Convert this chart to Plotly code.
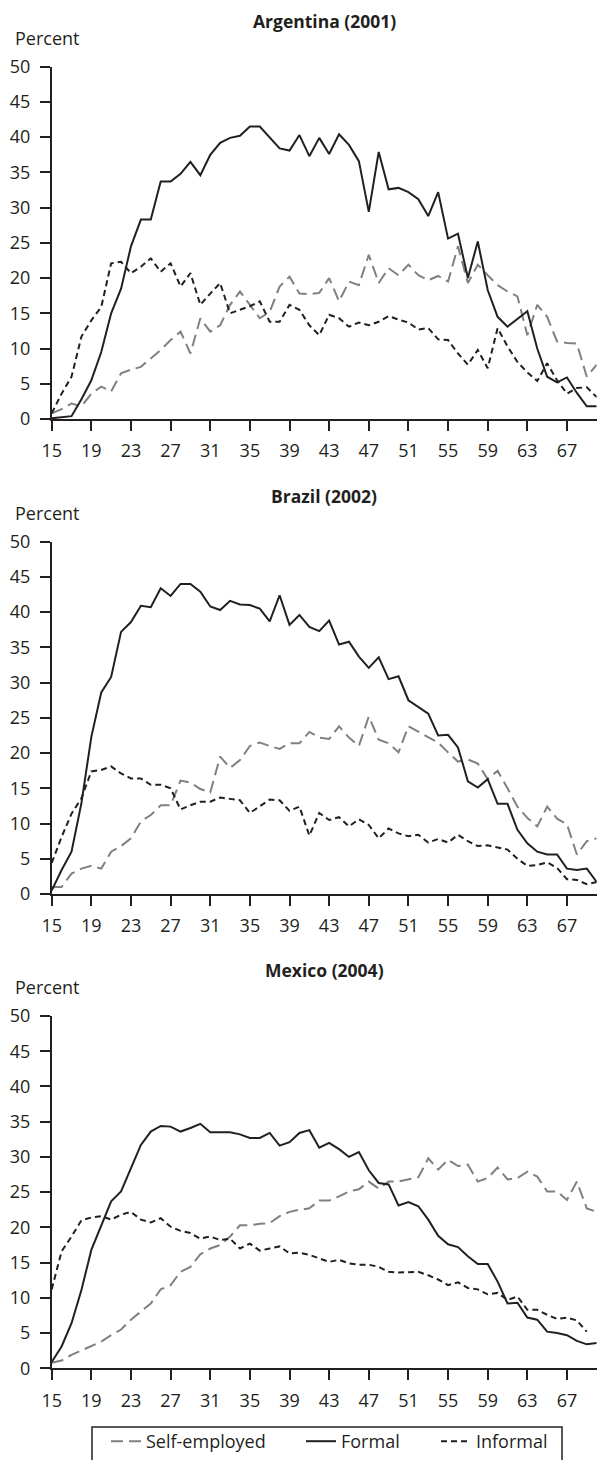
import plotly.graph_objects as go

# ages 15..70, one point per year
ages = list(range(15, 71))
tick_ages = list(range(15, 68, 4))

countries = ["Argentina (2001)", "Brazil (2002)", "Mexico (2004)"]

# percent of workers by age
arg_self = [0.8, 1.4, 2.2, 1.8, 3.6, 4.6, 3.9, 6.5, 7.0, 7.4, 8.6, 9.8, 11.2, 12.4, 9.3, 14.3,
            12.4, 13.3, 16.2, 18.1, 16.2, 14.3, 15.2, 18.8, 20.2, 17.8, 17.7, 17.9, 20.0, 16.7,
            19.5, 19.0, 23.3, 19.3, 21.4, 20.4, 21.9, 20.4, 19.7, 20.3, 19.5, 24.5, 19.3, 21.9,
            20.4, 19.0, 18.1, 17.4, 11.9, 16.2, 14.5, 11.0, 10.8, 10.7, 6.0, 7.7]
arg_formal = [0.1, 0.2, 0.4, 2.8, 5.5, 9.5, 15.0, 18.5, 24.5, 28.3, 28.3, 33.7, 33.7, 34.8, 36.5,
              34.6, 37.5, 39.2, 39.9, 40.2, 41.5, 41.5, 39.9, 38.4, 38.1, 40.3, 37.3, 39.9, 37.6,
              40.4, 38.9, 36.6, 29.4, 37.9, 32.6, 32.8, 32.2, 31.2, 28.8, 32.2, 25.6, 26.3, 20.0,
              25.2, 18.3, 14.5, 13.1, 14.2, 15.3, 10.0, 6.0, 5.2, 5.9, 3.7, 1.8, 1.8]
arg_informal = [0.8, 3.6, 6.0, 11.7, 14.0, 15.9, 22.1, 22.3, 20.7, 21.6, 22.8, 20.9, 22.1, 18.8,
                20.7, 16.2, 17.8, 19.3, 15.0, 15.5, 16.0, 16.7, 13.8, 13.8, 16.2, 15.5, 13.3, 11.9,
                14.8, 14.3, 13.1, 13.7, 13.3, 13.8, 14.6, 14.1, 13.7, 12.7, 12.9, 11.3, 11.2, 9.3,
                7.7, 9.8, 7.2, 12.9, 10.3, 8.1, 6.6, 5.4, 7.9, 5.5, 3.6, 4.4, 4.5, 3.1]

bra_self = [1.0, 1.0, 2.9, 3.6, 4.0, 3.6, 6.0, 6.8, 7.9, 10.3, 11.2, 12.6, 12.6, 16.1, 15.8, 14.9,
            14.4, 19.5, 17.9, 19.0, 21.0, 21.5, 21.0, 20.6, 21.4, 21.4, 23.0, 22.2, 22.0, 23.8,
            22.2, 21.0, 25.2, 21.9, 21.4, 20.1, 23.8, 23.0, 22.2, 21.5, 20.1, 18.8, 19.1, 18.5,
            16.3, 17.5, 15.0, 12.4, 10.8, 9.6, 12.4, 10.7, 9.9, 5.6, 7.5, 7.9]
bra_formal = [0.5, 3.4, 6.0, 12.9, 22.3, 28.6, 30.8, 37.2, 38.6, 40.9, 40.7, 43.4, 42.3, 44.0, 44.0,
              42.9, 40.8, 40.3, 41.6, 41.1, 41.0, 40.5, 38.7, 42.4, 38.2, 39.6, 37.9, 37.3, 38.8,
              35.4, 35.8, 33.7, 32.1, 33.6, 30.5, 30.9, 27.5, 26.6, 25.6, 22.5, 22.6, 20.8, 16.0,
              15.1, 16.3, 12.8, 12.8, 9.1, 7.2, 6.0, 5.6, 5.6, 3.6, 3.4, 3.6, 1.7]
bra_informal = [4.4, 8.1, 11.4, 13.6, 17.4, 17.6, 18.1, 17.1, 16.4, 16.4, 15.5, 15.5, 15.0, 12.0,
                12.6, 13.1, 13.1, 13.7, 13.5, 13.3, 11.5, 12.4, 13.4, 13.3, 11.8, 12.4, 8.3, 11.5,
                10.5, 10.9, 9.6, 10.6, 9.8, 7.9, 9.3, 8.6, 8.2, 8.4, 7.3, 7.8, 7.3, 8.4, 7.5, 6.8,
                6.9, 6.6, 6.3, 5.0, 4.0, 4.1, 4.5, 3.7, 2.1, 2.0, 1.4, 1.7]

mex_self = [0.8, 1.1, 1.9, 2.5, 3.1, 3.8, 4.7, 5.5, 6.9, 8.0, 9.2, 11.2, 11.8, 13.7, 14.4, 16.2,
            17.0, 17.5, 18.7, 20.3, 20.3, 20.5, 20.6, 21.6, 22.2, 22.5, 22.7, 23.8, 23.8, 24.4,
            25.1, 25.4, 26.5, 25.5, 26.5, 26.5, 26.8, 27.1, 29.8, 28.2, 29.6, 28.7, 28.9, 26.5,
            27.0, 28.5, 26.8, 27.0, 27.9, 27.2, 25.1, 25.1, 23.9, 26.5, 22.7, 22.2]
mex_formal = [0.9, 3.1, 6.4, 11.1, 16.8, 20.3, 23.7, 25.1, 28.4, 31.7, 33.6, 34.4, 34.3, 33.6, 34.1,
              34.7, 33.5, 33.5, 33.5, 33.2, 32.7, 32.7, 33.4, 31.6, 32.1, 33.4, 33.8, 31.3, 32.0,
              31.1, 30.0, 30.7, 28.1, 26.3, 26.1, 23.1, 23.6, 23.0, 21.1, 18.8, 17.6, 17.2, 15.9,
              14.8, 14.8, 12.3, 9.2, 9.3, 7.2, 6.9, 5.2, 5.0, 4.7, 3.9, 3.4, 3.6]
mex_informal = [11.2, 16.6, 18.7, 21.0, 21.4, 21.6, 21.1, 21.8, 22.2, 21.1, 20.7, 21.3, 20.1, 19.5,
                19.2, 18.4, 18.7, 18.2, 18.4, 17.0, 17.7, 16.7, 17.0, 17.3, 16.3, 16.4, 16.1, 15.6,
                15.1, 15.4, 14.9, 14.7, 14.7, 14.4, 13.7, 13.6, 13.6, 13.7, 13.2, 12.6, 11.8, 12.2,
                11.4, 11.2, 10.5, 10.7, 9.7, 10.2, 8.3, 8.3, 7.6, 7.0, 7.2, 6.8, 5.2, None]

panels = [
    (arg_self, arg_formal, arg_informal),
    (bra_self, bra_formal, bra_informal),
    (mex_self, mex_formal, mex_informal),
]

INK = "#231f20"
GREY = "#808080"
series_style = [
    ("Self-employed", dict(color=GREY, width=2, dash="12px,6px")),
    ("Formal", dict(color=INK, width=2)),
    ("Informal", dict(color=INK, width=2, dash="6px,4px")),
]
legend_ids = ["legend", "legend2", "legend3"]
legend_left = [106, 301, 436]  # px, one small legend per series inside the shared box

W, H = 598, 1460
# y domains (bottom, top) of each panel, from top panel to bottom panel
y_domains = [[1 - 419 / H, 1 - 66.7 / H],
             [1 - 894 / H, 1 - 541.7 / H],
             [1 - 1368.3 / H, 1 - 1016 / H]]
x_domain = [51.7 / W, 596.7 / W]

# legend frame: left, top, right sides only (bottom runs off the page)
bx0, bx1, by_top = 92 / W, 562 / W, 1 - 1427 / H
frame_path = f"M {bx0} 0 L {bx0} {by_top} L {bx1} {by_top} L {bx1} 0"

fig = go.Figure()

for k, series in enumerate(panels):
    sfx = "" if k == 0 else str(k + 1)
    for j, ((name, line), values) in enumerate(zip(series_style, series)):
        fig.add_trace(go.Scatter(
            x=ages, y=values, name=name, mode="lines", line=line,
            xaxis="x" + sfx, yaxis="y" + sfx,
            showlegend=(k == 0), legendgroup=name, legend=legend_ids[j],
        ))

axis_common = dict(
    showline=True, linecolor=INK, linewidth=1.6,
    ticks="outside", ticklen=10, tickwidth=1.6, tickcolor=INK,
    showgrid=False, zeroline=False, automargin=False,
    tickfont=dict(size=18, color=INK),
)

layout = dict(
    width=W, height=H,
    margin=dict(l=0, r=0, t=0, b=0),
    paper_bgcolor="white", plot_bgcolor="white",
    font=dict(family="Open Sans", size=18, color=INK),
    annotations=[],
    shapes=[dict(
        type="path", xref="paper", yref="paper", path=frame_path,
        line=dict(color=INK, width=1.5),
    )],
)

for lid, left in zip(legend_ids, legend_left):
    layout[lid] = dict(
        orientation="h", xref="paper", yref="paper",
        x=left / W, xanchor="left", y=0, yanchor="bottom",
        bgcolor="rgba(0,0,0,0)", borderwidth=0, font=dict(size=18, color=INK),
    )

for k, title in enumerate(countries):
    sfx = "" if k == 0 else str(k + 1)
    layout["xaxis" + sfx] = dict(
        axis_common, domain=x_domain, range=[15, 70],
        tickvals=tick_ages, anchor="y" + sfx, ticklabelstandoff=5,
    )
    layout["yaxis" + sfx] = dict(
        axis_common, domain=y_domains[k], range=[0, 50],
        dtick=5, anchor="x" + sfx, ticklabelstandoff=6,
    )
    layout["annotations"].append(dict(
        text="<b>" + title + "</b>", xref="x" + sfx + " domain", yref="y" + sfx + " domain",
        x=0.5, y=1, yanchor="middle", yshift=46, showarrow=False,
        font=dict(size=17.5, color=INK),
    ))
    layout["annotations"].append(dict(
        text="Percent", xref="paper", yref="y" + sfx + " domain",
        x=13 / W, xanchor="left", y=1, yanchor="middle", yshift=29, showarrow=False,
        font=dict(size=18, color=INK),
    ))

fig.update_layout(layout)
# the page's default body margin would push the 598x1460 figure off the window
fig.write_html("out.html", config={"displayModeBar": False},
               post_script="document.body.style.margin='0';")
